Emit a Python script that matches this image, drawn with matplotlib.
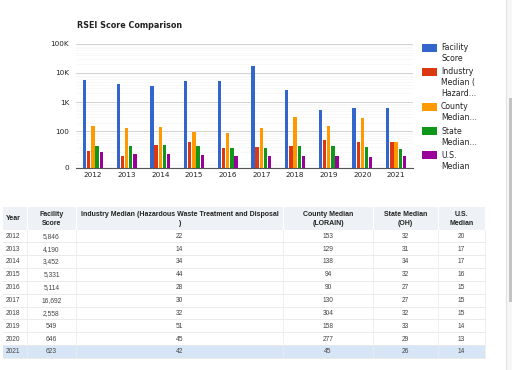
import matplotlib
matplotlib.use("Agg")
import matplotlib.pyplot as plt
from matplotlib.patches import Rectangle
from matplotlib.ticker import LogLocator, FixedLocator, NullFormatter
import numpy as np

# ---------------- data ----------------
years = [2012, 2013, 2014, 2015, 2016, 2017, 2018, 2019, 2020, 2021]
facility_score = [5846, 4190, 3452, 5331, 5114, 16692, 2558, 549, 646, 623]
industry_median = [22, 14, 34, 44, 28, 30, 32, 51, 45, 42]
county_median = [153, 129, 138, 94, 90, 130, 304, 158, 277, 45]
state_median = [32, 31, 34, 32, 27, 27, 32, 33, 29, 26]
us_median = [20, 17, 17, 16, 15, 15, 15, 14, 13, 14]

series = [facility_score, industry_median, county_median, state_median, us_median]
legend_labels = ["Facility\nScore", "Industry\nMedian (\nHazard...", "County\nMedian...",
                 "State\nMedian...", "U.S.\nMedian"]
colors = ["#3366cc", "#dc3912", "#ff9900", "#109618", "#990099"]

y_ticks = [100, 1000, 10000, 100000]
y_tick_labels = ["100", "1K", "10K", "100K"]
y_floor = 5.62          # value that the axis labels "0"
y_top = 100000

table_headers = ["Year", "Facility\nScore",
                 "Industry Median (Hazardous Waste Treatment and Disposal\n)",
                 "County Median\n(LORAIN)", "State Median\n(OH)", "U.S.\nMedian"]

# ---------------- figure ----------------
W, H = 512, 370
fig = plt.figure(figsize=(W / 100, H / 100), dpi=100)
fig.patch.set_facecolor("white")

def px(x, y):
    return x / W, 1 - y / H

# background overlay axes in pixel coordinates
bg = fig.add_axes([0, 0, 1, 1])
bg.set_xlim(0, W)
bg.set_ylim(H, 0)
bg.axis("off")
bg.set_zorder(0)

# right scroll panel
bg.add_patch(Rectangle((506, 0), 6, H, facecolor="#f6f6f6", edgecolor="none"))
bg.plot([506, 506], [0, H], color="#e3e3e3", lw=0.8)
bg.add_patch(Rectangle((509, 98), 3, 204, facecolor="#c3c3c3", edgecolor="none"))

# ---------------- chart ----------------
ax = fig.add_axes([76 / W, (H - 168) / H, (413 - 76) / W, (168 - 43.7) / H])
ax.set_zorder(2)
ax.set_yscale("log")
ax.set_ylim(y_floor, y_top)
x = np.arange(len(years))
n = len(series)
step = 0.124
width = 0.1
for i, (vals, c) in enumerate(zip(series, colors)):
    v = np.array(vals, dtype=float)
    ax.bar(x + (i - (n - 1) / 2) * step, v - y_floor, bottom=y_floor, width=width,
           color=c, edgecolor="none", zorder=3)

ax.set_xlim(-0.5, len(years) - 0.5)
ax.set_xticks(x)
ax.set_xticklabels([str(y) for y in years])
ax.yaxis.set_major_locator(FixedLocator([y_floor] + y_ticks))
ax.set_yticklabels(["0"] + y_tick_labels)
ax.yaxis.set_minor_locator(LogLocator(base=10, subs=np.arange(2, 10), numticks=20))
ax.yaxis.set_minor_formatter(NullFormatter())
ax.tick_params(axis="both", length=0, which="both")
ax.tick_params(axis="x", pad=3.2, labelsize=5.2, labelcolor="#222222")
ax.tick_params(axis="y", pad=5, labelsize=5.2, labelcolor="#222222")
ax.grid(True, axis="y", which="major", color="#cccccc", lw=0.6, zorder=0)
ax.grid(True, axis="y", which="minor", color="#f3f3f3", lw=0.4, zorder=0)
for s in ["top", "right", "left"]:
    ax.spines[s].set_visible(False)
ax.spines["bottom"].set_color("#555555")
ax.spines["bottom"].set_linewidth(0.8)
ax.spines["bottom"].set_zorder(4)
ax.set_axisbelow(True)
ax.patch.set_alpha(0)

# title
fig.text(*px(77, 25), "RSEI Score Comparison", fontsize=5.8, fontweight="bold",
         color="#222222", ha="left", va="center", family="DejaVu Sans")

# legend
ly = 47.5
line_h = 11.0
for lab, c in zip(legend_labels, colors):
    bg.add_patch(Rectangle((421.5, ly - 4), 15.6, 8, facecolor=c, edgecolor="none"))
    lines = lab.split("\n")
    for k, t in enumerate(lines):
        bg.text(441, ly + k * line_h, t, fontsize=5.6, color="#222222",
                ha="left", va="center", family="DejaVu Sans")
    ly += len(lines) * line_h + 2.2

# ---------------- table ----------------
col_edges = [3, 27, 76, 283, 373, 438, 485]
head_top, head_bot = 207, 229.5
row_h = 12.85
tbl_font = ["Liberation Sans", "DejaVu Sans"]

bg.add_patch(Rectangle((col_edges[0], head_top), col_edges[-1] - col_edges[0],
                       head_bot - head_top, facecolor="#eef1f6", edgecolor="none"))
for xe in col_edges[1:-1]:
    bg.plot([xe, xe], [head_top, head_bot], color="white", lw=0.8)
for j, h in enumerate(table_headers):
    lines = h.split("\n")
    cx = (col_edges[j] + col_edges[j + 1]) / 2
    ha = "center"
    if j == 0:
        cx = col_edges[0] + 3
        ha = "left"
    if len(lines) == 1:
        ys = [(head_top + head_bot) / 2]
    else:
        ys = [214, 223.5]
    for t, yy in zip(lines, ys):
        bg.text(cx, yy, t, fontsize=5.0, fontweight="bold", color="#222222",
                ha=ha, va="center", family=tbl_font)

rows = list(zip(years, facility_score, industry_median, county_median, state_median, us_median))
for r, row in enumerate(rows):
    top = head_bot + r * row_h
    if r == len(rows) - 1:
        bg.add_patch(Rectangle((col_edges[0], top), col_edges[-1] - col_edges[0], row_h,
                               facecolor="#d6e6f6", edgecolor="none"))
    bg.plot([col_edges[0], col_edges[-1]], [top + row_h, top + row_h], color="#e8e8e8", lw=0.6)
    for xe in col_edges[1:]:
        bg.plot([xe, xe], [top, top + row_h], color="#ececec", lw=0.6)
    for j, v in enumerate(row):
        txt = str(v) if j == 0 else f"{v:,}"
        cx = (col_edges[j] + col_edges[j + 1]) / 2
        ha = "center"
        if j == 0:
            cx = col_edges[0] + 3
            ha = "left"
        bg.text(cx, top + row_h / 2 + 0.3, txt, fontsize=4.8, color="#444444",
                ha=ha, va="center", family=tbl_font)

fig.savefig("out.png", dpi=100, facecolor="white")
